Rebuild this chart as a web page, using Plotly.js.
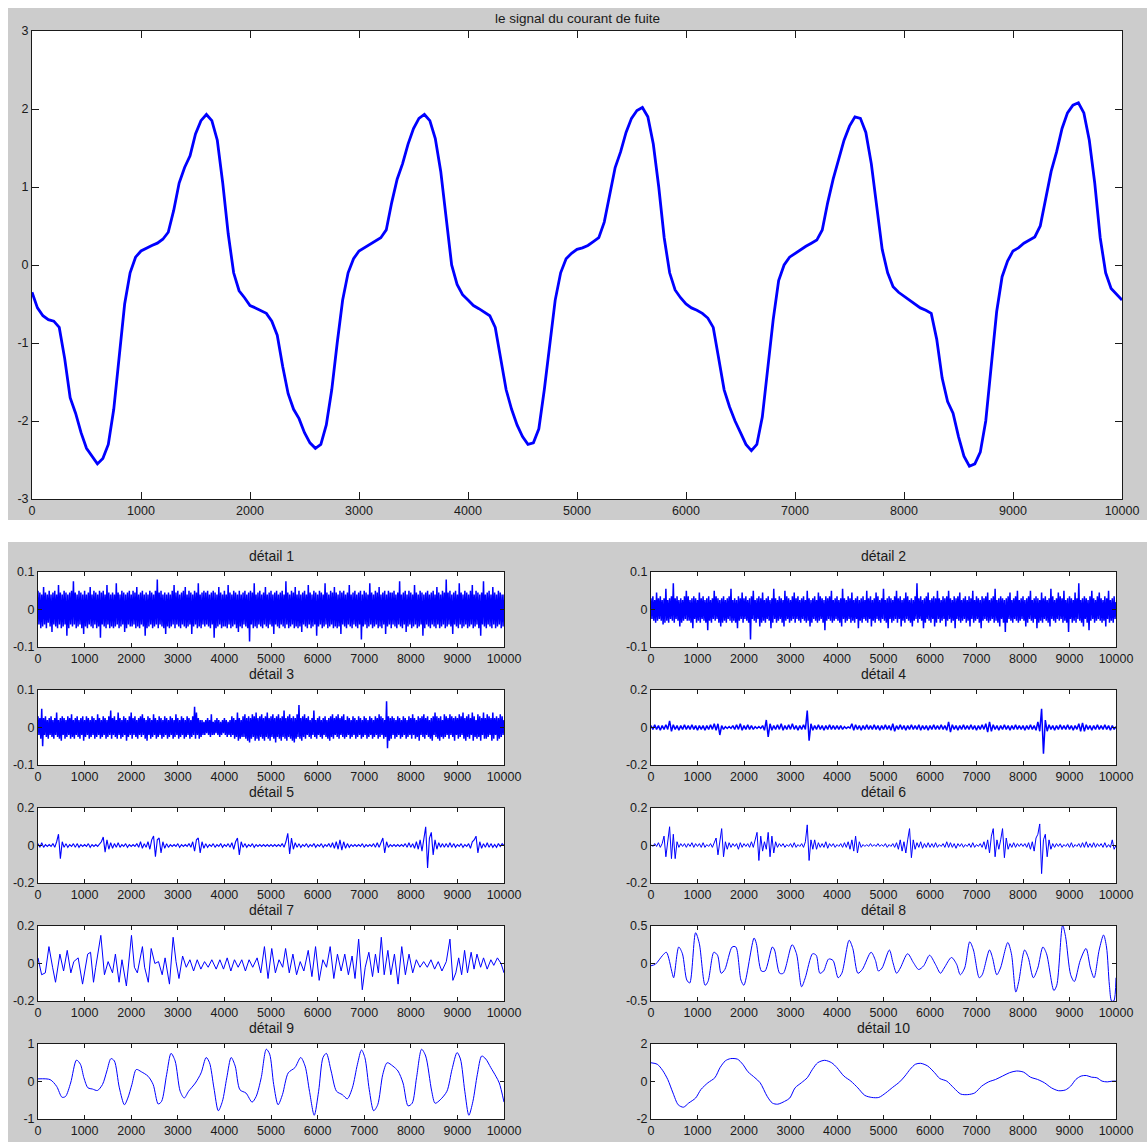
<!DOCTYPE html>
<html><head><meta charset="utf-8">
<script src="https://cdn.plot.ly/plotly-3.0.1.min.js"></script>
<style>html,body{margin:0;padding:0;background:#fff}#chart{width:1147px;height:1142px}</style>
</head><body><div id="chart"></div><script>
// ---------- data ----------
const xTicks = [0,1000,2000,3000,4000,5000,6000,7000,8000,9000,10000];
const xTickText = ['0','1000','2000','3000','4000','5000','6000','7000','8000','9000','10000'];
const mainTitle = 'le signal du courant de fuite';
const detailTitles = ['détail 1','détail 2','détail 3','détail 4','détail 5','détail 6','détail 7','détail 8','détail 9','détail 10'];

// main signal, one value every 50 samples
const signalStep = 50;
const signal = [
-0.35,-0.55,-0.65,-0.7,-0.72,-0.8,-1.2,-1.7,-1.9,-2.15,-2.35,-2.45,-2.55,-2.48,-2.3,-1.85,-1.15,-0.5,-0.1,0.1,
0.18,0.22,0.25,0.28,0.33,0.42,0.7,1.05,1.25,1.4,1.68,1.85,1.93,1.85,1.6,1.05,0.4,-0.1,-0.33,-0.42,
-0.52,-0.55,-0.58,-0.62,-0.72,-0.9,-1.3,-1.65,-1.85,-1.97,-2.15,-2.28,-2.35,-2.3,-2.05,-1.6,-1.0,-0.45,-0.1,0.08,
0.18,0.22,0.26,0.3,0.35,0.45,0.8,1.1,1.3,1.55,1.75,1.88,1.93,1.85,1.62,1.2,0.6,0.0,-0.25,-0.38,
-0.45,-0.52,-0.56,-0.6,-0.65,-0.8,-1.2,-1.6,-1.85,-2.05,-2.2,-2.3,-2.28,-2.1,-1.6,-1.0,-0.45,-0.1,0.08,0.15,
0.2,0.22,0.25,0.3,0.35,0.55,0.9,1.25,1.45,1.7,1.88,1.98,2.02,1.9,1.55,1.0,0.35,-0.1,-0.32,-0.42,
-0.5,-0.55,-0.58,-0.62,-0.68,-0.8,-1.2,-1.6,-1.82,-2.0,-2.15,-2.3,-2.38,-2.3,-1.95,-1.3,-0.7,-0.2,0.0,0.1,
0.15,0.2,0.24,0.28,0.32,0.45,0.8,1.1,1.35,1.6,1.78,1.9,1.88,1.7,1.3,0.75,0.2,-0.1,-0.28,-0.35,
-0.4,-0.45,-0.5,-0.55,-0.58,-0.62,-0.95,-1.45,-1.75,-1.9,-2.2,-2.45,-2.58,-2.55,-2.4,-2.0,-1.3,-0.6,-0.15,0.05,
0.18,0.22,0.28,0.32,0.36,0.5,0.85,1.2,1.45,1.75,1.95,2.05,2.08,1.95,1.6,1.05,0.35,-0.1,-0.3,-0.38,-0.45];

// details 1-3, one value every 20 samples
const fineStep = 20;
const d1 = [
0.05,-0.04,0.045,-0.05,0.04,-0.045,0.06,-0.04,0.045,-0.05,0.04,-0.035,0.05,-0.045,0.04,-0.06,0.045,-0.04,0.05,-0.045,
0.04,-0.05,0.065,-0.04,0.045,-0.05,0.04,-0.045,0.05,-0.04,0.045,-0.07,0.04,-0.05,0.045,-0.04,0.05,-0.045,0.075,-0.04,
0.045,-0.05,0.04,-0.045,0.05,-0.04,0.045,-0.05,0.04,-0.065,0.05,-0.045,0.04,-0.05,0.045,-0.04,0.06,-0.045,0.04,-0.05,
0.05,-0.04,0.045,-0.05,0.04,-0.045,0.05,-0.075,0.045,-0.04,0.05,-0.045,0.04,-0.05,0.065,-0.04,0.045,-0.05,0.04,-0.045,
0.045,-0.05,0.04,-0.045,0.07,-0.04,0.045,-0.05,0.04,-0.045,0.05,-0.04,0.045,-0.06,0.04,-0.05,0.045,-0.04,0.05,-0.045,
0.04,-0.045,0.05,-0.04,0.045,-0.05,0.06,-0.045,0.04,-0.05,0.045,-0.04,0.05,-0.045,0.04,-0.07,0.045,-0.05,0.04,-0.045,
0.05,-0.04,0.045,-0.05,0.04,-0.045,0.05,-0.04,0.08,-0.05,0.045,-0.04,0.05,-0.045,0.04,-0.05,0.045,-0.065,0.04,-0.045,
0.045,-0.05,0.04,-0.045,0.05,-0.04,0.065,-0.05,0.045,-0.04,0.05,-0.045,0.04,-0.05,0.045,-0.04,0.05,-0.045,0.06,-0.05,
0.04,-0.045,0.05,-0.04,0.045,-0.065,0.04,-0.045,0.05,-0.04,0.045,-0.05,0.07,-0.045,0.04,-0.05,0.045,-0.04,0.05,-0.045,
0.045,-0.04,0.05,-0.045,0.04,-0.05,0.045,-0.04,0.05,-0.075,0.045,-0.05,0.04,-0.045,0.06,-0.04,0.045,-0.05,0.04,-0.045,
0.05,-0.045,0.04,-0.05,0.065,-0.04,0.045,-0.05,0.04,-0.045,0.05,-0.04,0.045,-0.05,0.04,-0.06,0.05,-0.045,0.04,-0.05,
0.045,-0.04,0.05,-0.045,0.04,-0.05,0.045,-0.085,0.05,-0.04,0.045,-0.05,0.07,-0.045,0.04,-0.05,0.045,-0.04,0.05,-0.045,
0.04,-0.05,0.045,-0.04,0.06,-0.045,0.04,-0.05,0.045,-0.04,0.05,-0.045,0.04,-0.065,0.045,-0.04,0.05,-0.045,0.04,-0.05,
0.045,-0.04,0.05,-0.045,0.04,-0.05,0.075,-0.04,0.045,-0.05,0.04,-0.045,0.05,-0.04,0.045,-0.05,0.06,-0.045,0.04,-0.05,
0.05,-0.045,0.04,-0.06,0.045,-0.04,0.05,-0.045,0.04,-0.05,0.065,-0.04,0.045,-0.05,0.04,-0.045,0.05,-0.04,0.045,-0.07,
0.04,-0.045,0.05,-0.04,0.045,-0.05,0.04,-0.045,0.07,-0.04,0.045,-0.05,0.04,-0.045,0.05,-0.04,0.045,-0.05,0.06,-0.045,
0.045,-0.05,0.04,-0.045,0.05,-0.065,0.045,-0.04,0.05,-0.045,0.04,-0.05,0.045,-0.04,0.065,-0.045,0.04,-0.05,0.045,-0.04,
0.05,-0.045,0.04,-0.05,0.045,-0.04,0.05,-0.08,0.04,-0.045,0.05,-0.04,0.045,-0.05,0.04,-0.045,0.07,-0.04,0.045,-0.05,
0.04,-0.045,0.05,-0.04,0.045,-0.05,0.06,-0.045,0.04,-0.05,0.045,-0.04,0.05,-0.065,0.04,-0.045,0.05,-0.04,0.045,-0.05,
0.045,-0.04,0.05,-0.045,0.04,-0.05,0.045,-0.04,0.075,-0.045,0.04,-0.05,0.045,-0.04,0.05,-0.06,0.04,-0.045,0.05,-0.04,
0.045,-0.05,0.04,-0.045,0.065,-0.04,0.045,-0.05,0.04,-0.045,0.05,-0.04,0.045,-0.07,0.04,-0.05,0.045,-0.04,0.05,-0.045,
0.04,-0.05,0.045,-0.04,0.05,-0.045,0.04,-0.05,0.06,-0.04,0.045,-0.05,0.04,-0.045,0.05,-0.04,0.045,-0.05,0.08,-0.045,
0.045,-0.04,0.05,-0.045,0.04,-0.065,0.045,-0.04,0.05,-0.045,0.04,-0.05,0.07,-0.04,0.045,-0.05,0.04,-0.045,0.05,-0.04,
0.045,-0.05,0.04,-0.045,0.05,-0.04,0.065,-0.05,0.04,-0.045,0.05,-0.04,0.045,-0.05,0.04,-0.07,0.045,-0.04,0.075,-0.045,
0.04,-0.05,0.045,-0.04,0.05,-0.045,0.04,-0.05,0.06,-0.04,0.045,-0.05,0.04,-0.045,0.05,-0.04,0.045,-0.05,0.04,-0.045,
0.04];
const d2 = [
0.03,-0.025,0.035,-0.03,0.025,-0.035,0.045,-0.03,0.03,-0.025,0.035,-0.03,0.025,-0.04,0.03,-0.035,0.055,-0.03,0.025,-0.035,
0.03,-0.025,0.035,-0.03,0.07,-0.035,0.03,-0.025,0.035,-0.03,0.025,-0.045,0.03,-0.035,0.025,-0.03,0.035,-0.025,0.05,-0.03,
0.035,-0.03,0.025,-0.035,0.03,-0.05,0.035,-0.025,0.03,-0.035,0.025,-0.03,0.045,-0.035,0.03,-0.025,0.035,-0.03,0.025,-0.035,
0.03,-0.055,0.035,-0.03,0.025,-0.035,0.03,-0.025,0.05,-0.03,0.035,-0.025,0.03,-0.035,0.025,-0.045,0.03,-0.035,0.035,-0.03,
0.025,-0.035,0.03,-0.025,0.035,-0.03,0.055,-0.035,0.025,-0.03,0.03,-0.035,0.025,-0.05,0.035,-0.03,0.03,-0.025,0.045,-0.035,
0.03,-0.025,0.035,-0.03,0.025,-0.035,0.03,-0.08,0.035,-0.025,0.05,-0.03,0.025,-0.035,0.03,-0.025,0.035,-0.045,0.03,-0.035,
0.045,-0.03,0.025,-0.035,0.03,-0.025,0.035,-0.03,0.025,-0.05,0.03,-0.035,0.055,-0.025,0.03,-0.035,0.025,-0.03,0.035,-0.025,
0.03,-0.035,0.025,-0.045,0.05,-0.03,0.035,-0.025,0.03,-0.035,0.025,-0.03,0.035,-0.025,0.045,-0.035,0.03,-0.025,0.035,-0.03,
0.025,-0.035,0.03,-0.025,0.035,-0.03,0.025,-0.035,0.05,-0.03,0.03,-0.045,0.025,-0.035,0.03,-0.025,0.035,-0.03,0.025,-0.035,
0.045,-0.03,0.035,-0.025,0.03,-0.035,0.025,-0.055,0.035,-0.03,0.03,-0.025,0.035,-0.03,0.05,-0.035,0.025,-0.03,0.03,-0.025,
0.035,-0.03,0.025,-0.035,0.03,-0.045,0.055,-0.025,0.03,-0.035,0.025,-0.03,0.035,-0.025,0.03,-0.035,0.045,-0.03,0.025,-0.035,
0.03,-0.025,0.035,-0.05,0.025,-0.03,0.03,-0.035,0.035,-0.025,0.025,-0.03,0.05,-0.035,0.03,-0.025,0.035,-0.045,0.025,-0.03,
0.03,-0.035,0.045,-0.025,0.035,-0.03,0.025,-0.035,0.03,-0.025,0.055,-0.03,0.025,-0.035,0.03,-0.05,0.035,-0.025,0.03,-0.035,
0.025,-0.03,0.035,-0.025,0.05,-0.035,0.03,-0.025,0.035,-0.045,0.025,-0.03,0.03,-0.035,0.045,-0.025,0.035,-0.03,0.025,-0.035,
0.03,-0.045,0.025,-0.03,0.035,-0.025,0.07,-0.035,0.03,-0.025,0.035,-0.03,0.025,-0.05,0.03,-0.035,0.035,-0.025,0.045,-0.03,
0.025,-0.035,0.03,-0.025,0.035,-0.045,0.03,-0.035,0.05,-0.025,0.03,-0.035,0.025,-0.03,0.035,-0.025,0.03,-0.045,0.035,-0.03,
0.05,-0.025,0.03,-0.035,0.025,-0.03,0.035,-0.05,0.03,-0.025,0.035,-0.03,0.045,-0.035,0.025,-0.03,0.03,-0.025,0.035,-0.035,
0.025,-0.03,0.035,-0.045,0.03,-0.025,0.05,-0.035,0.025,-0.03,0.035,-0.025,0.03,-0.035,0.025,-0.05,0.035,-0.03,0.03,-0.025,
0.035,-0.03,0.045,-0.035,0.025,-0.03,0.03,-0.025,0.035,-0.035,0.055,-0.03,0.025,-0.035,0.03,-0.045,0.035,-0.025,0.03,-0.035,
0.025,-0.06,0.03,-0.035,0.035,-0.025,0.045,-0.03,0.025,-0.035,0.03,-0.025,0.035,-0.03,0.05,-0.035,0.025,-0.03,0.03,-0.025,
0.035,-0.03,0.025,-0.045,0.03,-0.035,0.035,-0.025,0.05,-0.03,0.025,-0.035,0.03,-0.025,0.035,-0.05,0.03,-0.035,0.025,-0.03,
0.045,-0.035,0.03,-0.025,0.035,-0.03,0.025,-0.035,0.03,-0.045,0.055,-0.025,0.035,-0.03,0.025,-0.035,0.03,-0.025,0.045,-0.03,
0.035,-0.025,0.03,-0.035,0.05,-0.03,0.025,-0.035,0.03,-0.06,0.035,-0.025,0.03,-0.035,0.025,-0.03,0.045,-0.035,0.03,-0.025,
0.07,-0.03,0.025,-0.035,0.03,-0.045,0.035,-0.025,0.03,-0.035,0.025,-0.055,0.035,-0.03,0.05,-0.025,0.03,-0.035,0.025,-0.03,
0.035,-0.025,0.045,-0.03,0.03,-0.035,0.025,-0.03,0.035,-0.045,0.03,-0.025,0.05,-0.035,0.025,-0.03,0.03,-0.035,0.035,-0.025,
0.02];
const d3 = [
0.03,-0.02,0.025,-0.03,0.05,-0.05,0.025,-0.02,0.03,-0.025,0.02,-0.03,0.025,-0.02,0.03,-0.025,0.02,-0.03,0.025,-0.02,
0.04,-0.025,0.02,-0.03,0.025,-0.035,0.03,-0.02,0.025,-0.03,0.02,-0.025,0.03,-0.02,0.025,-0.03,0.035,-0.025,0.02,-0.03,
0.025,-0.02,0.03,-0.025,0.02,-0.03,0.025,-0.02,0.03,-0.035,0.02,-0.025,0.03,-0.02,0.025,-0.03,0.02,-0.025,0.03,-0.02,
0.025,-0.03,0.02,-0.025,0.035,-0.02,0.025,-0.03,0.02,-0.025,0.03,-0.02,0.025,-0.03,0.02,-0.025,0.03,-0.02,0.045,-0.03,
0.025,-0.02,0.03,-0.025,0.02,-0.03,0.04,-0.02,0.025,-0.03,0.02,-0.025,0.03,-0.02,0.025,-0.035,0.02,-0.025,0.03,-0.02,
0.04,-0.03,0.025,-0.02,0.03,-0.025,0.02,-0.03,0.025,-0.02,0.03,-0.025,0.035,-0.02,0.025,-0.03,0.02,-0.035,0.03,-0.02,
0.025,-0.03,0.02,-0.025,0.035,-0.02,0.025,-0.03,0.02,-0.025,0.03,-0.02,0.025,-0.03,0.02,-0.025,0.03,-0.02,0.025,-0.03,
0.02,-0.025,0.03,-0.02,0.025,-0.03,0.02,-0.025,0.035,-0.02,0.025,-0.03,0.02,-0.025,0.03,-0.02,0.025,-0.03,0.02,-0.025,
0.03,-0.02,0.025,-0.03,0.02,-0.025,0.03,-0.02,0.055,-0.03,0.04,-0.02,0.025,-0.03,0.02,-0.025,0.02,-0.02,0.015,-0.02,
0.02,-0.015,0.025,-0.02,0.02,-0.025,0.035,-0.02,0.015,-0.02,0.02,-0.015,0.025,-0.02,0.02,-0.025,0.015,-0.02,0.02,-0.015,
0.025,-0.02,0.02,-0.025,0.015,-0.02,0.02,-0.025,0.03,-0.02,0.025,-0.03,0.02,-0.025,0.04,-0.035,0.025,-0.03,0.02,-0.025,
0.03,-0.025,0.035,-0.03,0.025,-0.035,0.03,-0.04,0.025,-0.03,0.035,-0.025,0.03,-0.035,0.04,-0.03,0.025,-0.035,0.03,-0.025,
0.035,-0.03,0.025,-0.035,0.03,-0.025,0.04,-0.03,0.025,-0.035,0.03,-0.025,0.035,-0.03,0.025,-0.04,0.03,-0.025,0.035,-0.03,
0.025,-0.035,0.03,-0.025,0.045,-0.03,0.025,-0.035,0.03,-0.025,0.035,-0.03,0.025,-0.035,0.03,-0.04,0.025,-0.03,0.035,-0.025,
0.06,-0.03,0.025,-0.035,0.03,-0.025,0.035,-0.03,0.025,-0.02,0.03,-0.025,0.02,-0.03,0.025,-0.02,0.045,-0.025,0.02,-0.03,
0.025,-0.02,0.03,-0.025,0.02,-0.03,0.025,-0.02,0.03,-0.025,0.02,-0.03,0.025,-0.035,0.03,-0.025,0.035,-0.03,0.025,-0.02,
0.03,-0.025,0.035,-0.03,0.025,-0.02,0.03,-0.025,0.035,-0.03,0.02,-0.025,0.03,-0.02,0.025,-0.03,0.02,-0.025,0.03,-0.02,
0.025,-0.03,0.02,-0.025,0.03,-0.02,0.025,-0.03,0.02,-0.025,0.03,-0.02,0.025,-0.03,0.02,-0.025,0.03,-0.02,0.025,-0.03,
0.02,-0.025,0.03,-0.02,0.025,-0.03,0.035,-0.025,0.03,-0.02,0.025,-0.03,0.02,-0.025,0.07,-0.055,0.03,-0.035,0.025,-0.03,
0.03,-0.02,0.025,-0.03,0.02,-0.025,0.03,-0.02,0.025,-0.03,0.02,-0.025,0.03,-0.02,0.025,-0.03,0.02,-0.025,0.03,-0.02,
0.025,-0.03,0.035,-0.02,0.025,-0.03,0.02,-0.025,0.03,-0.035,0.025,-0.02,0.03,-0.025,0.035,-0.03,0.025,-0.02,0.03,-0.025,
0.02,-0.03,0.025,-0.035,0.03,-0.02,0.04,-0.025,0.03,-0.03,0.025,-0.035,0.03,-0.025,0.02,-0.03,0.035,-0.025,0.03,-0.02,
0.025,-0.03,0.035,-0.02,0.03,-0.025,0.025,-0.035,0.03,-0.02,0.025,-0.03,0.035,-0.025,0.03,-0.02,0.04,-0.03,0.025,-0.035,
0.03,-0.025,0.035,-0.03,0.025,-0.02,0.04,-0.035,0.03,-0.025,0.02,-0.03,0.035,-0.025,0.03,-0.035,0.025,-0.02,0.04,-0.03,
0.025,-0.03,0.035,-0.025,0.03,-0.02,0.025,-0.035,0.04,-0.03,0.025,-0.02,0.03,-0.035,0.025,-0.03,0.035,-0.025,0.03,-0.02,
0.02];

// details 4-6, one value every 40 samples
const detailStep = 40;
const d4 = [
0.01,-0.01,0.015,-0.01,0.01,-0.015,0.01,-0.01,0.015,-0.01,0.035,-0.02,0.015,-0.01,0.01,-0.015,0.01,-0.01,0.015,-0.01,
0.01,-0.01,0.015,-0.01,0.01,-0.015,0.01,-0.01,0.01,-0.015,0.01,-0.01,0.015,-0.01,0.02,-0.015,0.02,-0.04,0.01,-0.01,
0.005,-0.005,0.005,-0.005,0.01,-0.01,0.015,-0.01,0.02,-0.015,0.01,-0.01,0.015,-0.01,0.01,-0.01,0.005,-0.005,0.005,-0.005,
0.01,-0.015,0.04,-0.05,0.02,-0.015,0.01,-0.01,0.015,-0.01,0.02,-0.015,0.01,-0.01,0.015,-0.01,0.02,-0.01,0.01,-0.015,
0.01,-0.01,0.015,-0.01,0.09,-0.07,0.02,-0.015,0.01,-0.01,0.015,-0.01,0.01,-0.015,0.01,-0.01,0.015,-0.01,0.01,-0.01,
0.01,-0.01,0.01,-0.01,0.005,-0.005,0.003,-0.003,0.02,-0.015,0.015,-0.01,0.01,-0.015,0.01,-0.01,0.015,-0.01,0.01,-0.01,
0.015,-0.01,0.01,-0.015,0.01,-0.01,0.015,-0.01,0.01,-0.015,0.02,-0.02,0.01,-0.01,0.015,-0.01,0.01,-0.015,0.01,-0.01,
0.015,-0.01,0.01,-0.01,0.015,-0.015,0.01,-0.01,0.01,-0.015,0.01,-0.01,0.015,-0.01,0.01,-0.01,0.015,-0.01,0.01,-0.015,
0.03,-0.025,0.015,-0.01,0.01,-0.015,0.01,-0.01,0.015,-0.01,0.01,-0.01,0.015,-0.01,0.01,-0.015,0.01,-0.01,0.015,-0.01,
0.02,-0.025,0.03,-0.02,0.015,-0.01,0.01,-0.015,0.01,-0.01,0.015,-0.01,0.01,-0.015,0.01,-0.01,0.015,-0.01,0.01,-0.01,
0.01,-0.015,0.01,-0.01,0.015,-0.01,0.01,-0.015,0.03,-0.02,0.1,-0.14,0.04,-0.02,0.015,-0.01,0.01,-0.015,0.01,-0.01,
0.015,-0.01,0.01,-0.01,0.015,-0.01,0.01,-0.015,0.01,-0.01,0.02,-0.02,0.025,-0.02,0.015,-0.01,0.01,-0.015,0.01,-0.01,
0.015,-0.01,0.01,-0.01,0.015,-0.01,0.01,-0.015,0.01,-0.01,0.005];
const d5 = [
0.01,-0.01,0.015,-0.01,0.005,-0.005,0.005,-0.005,0.01,-0.01,0.02,0.06,-0.07,0.02,-0.01,0.01,-0.01,0.005,-0.005,0.01,
-0.01,0.01,-0.01,0.005,-0.005,0.005,-0.005,0.01,-0.01,0.005,-0.005,0.005,-0.005,0.01,0.02,0.045,-0.035,0.03,-0.02,0.015,
-0.015,0.01,-0.01,0.015,-0.01,0.005,-0.005,0.01,-0.01,0.005,-0.005,0.005,-0.005,0.01,-0.01,0.02,-0.015,0.01,-0.01,0.02,
-0.02,0.03,0.05,-0.06,0.03,0.04,-0.04,0.02,-0.015,0.01,-0.01,0.005,-0.005,0.005,-0.005,0.01,-0.01,0.005,-0.005,0.005,
-0.005,0.01,-0.01,0.02,-0.03,0.03,0.04,-0.04,0.02,-0.015,0.01,-0.01,0.005,-0.005,0.01,-0.01,0.005,-0.005,0.01,-0.01,
0.005,-0.005,0.01,-0.01,0.015,-0.02,0.02,0.04,-0.05,0.02,-0.01,0.01,-0.01,0.005,-0.005,0.01,-0.01,0.005,-0.005,0.005,
-0.005,0.005,-0.005,0.005,-0.005,0.005,-0.005,0.005,-0.005,0.005,-0.005,0.01,-0.01,0.02,0.065,-0.045,0.04,-0.02,0.015,-0.01,
0.01,-0.01,0.005,-0.005,0.01,-0.01,0.005,-0.005,0.01,-0.01,0.005,-0.005,0.01,-0.01,0.005,-0.005,0.01,-0.01,0.015,-0.015,
0.02,-0.02,0.03,-0.025,0.02,-0.015,0.01,-0.01,0.005,-0.005,0.005,-0.005,0.005,-0.005,0.01,-0.01,0.005,-0.005,0.005,-0.005,
0.01,-0.01,0.015,-0.01,0.02,0.04,-0.04,0.02,-0.01,0.005,-0.005,0.005,-0.005,0.005,-0.005,0.005,-0.005,0.01,-0.01,0.015,
-0.01,0.01,-0.015,0.02,-0.02,0.03,-0.03,0.04,0.1,-0.12,0.04,0.07,-0.05,0.03,-0.02,0.015,-0.01,0.01,-0.01,0.01,
-0.01,0.015,-0.01,0.01,-0.01,0.005,-0.005,0.01,-0.01,0.005,-0.005,0.01,-0.015,0.02,0.03,0.05,-0.04,0.02,-0.015,0.01,
-0.01,0.015,-0.01,0.01,-0.01,0.005,-0.01,0.01,-0.005,0.01,0.0];
const d6 = [
0.005,-0.005,0.01,-0.005,0.015,-0.01,0.01,0.05,-0.06,0.03,0.1,-0.07,0.06,-0.07,0.02,-0.01,0.01,-0.005,0.01,-0.01,
0.01,-0.005,0.015,-0.01,0.01,-0.005,0.01,-0.01,0.015,-0.01,0.005,-0.005,0.01,-0.01,0.02,0.04,-0.05,0.03,0.09,-0.06,
0.02,-0.02,0.015,-0.01,0.01,-0.005,0.01,-0.02,0.015,-0.01,0.01,-0.005,0.01,-0.01,0.02,-0.01,0.03,0.07,-0.08,0.05,
-0.03,0.02,-0.02,0.07,-0.06,0.05,-0.04,0.02,-0.01,0.01,-0.005,0.01,-0.01,0.005,-0.005,0.01,-0.01,0.015,-0.01,0.005,
-0.005,0.01,-0.01,0.02,0.11,-0.08,0.03,-0.02,0.03,-0.02,0.015,-0.01,0.01,-0.01,0.02,-0.015,0.01,-0.005,0.01,-0.01,
0.005,-0.005,0.01,-0.01,0.015,-0.01,0.02,-0.02,0.03,-0.03,0.05,-0.04,0.02,-0.01,0.005,-0.005,0.005,-0.005,0.01,-0.005,
0.005,-0.005,0.01,-0.005,0.005,-0.005,0.01,-0.01,0.005,-0.005,0.01,-0.01,0.015,-0.02,0.03,-0.03,0.02,-0.04,0.03,0.09,
-0.065,0.03,-0.02,0.015,-0.01,0.02,-0.015,0.01,-0.01,0.015,-0.01,0.01,-0.01,0.015,-0.01,0.005,-0.005,0.01,-0.01,0.02,
-0.01,0.015,-0.01,0.01,-0.015,0.01,-0.005,0.01,-0.01,0.005,-0.005,0.01,-0.01,0.015,-0.01,0.005,-0.005,0.01,-0.01,0.02,
-0.02,0.03,-0.04,0.05,0.09,-0.06,0.03,-0.02,0.03,0.09,-0.065,0.04,-0.02,0.01,-0.01,0.015,-0.01,0.01,-0.005,0.01,
-0.005,0.01,-0.01,0.015,-0.02,0.02,-0.03,0.04,0.06,0.115,-0.15,0.03,0.06,-0.06,0.03,-0.02,0.01,-0.01,0.01,-0.005,
0.01,-0.01,0.005,-0.005,0.01,-0.01,0.015,-0.01,0.005,-0.005,0.01,-0.01,0.015,-0.01,0.02,-0.01,0.01,-0.01,0.015,-0.01,
0.01,-0.005,0.01,-0.01,0.015,-0.01,0.005,-0.01,0.03,-0.02,0.0];

// details 7-10 as read points (sample index, value)
const d7x = [0,78,157,235,313,376,470,549,627,705,768,862,956,987,1066,1128,1191,1238,1348,1426,
1505,1599,1661,1740,1802,1897,2006,2069,2132,2241,2288,2367,2429,2508,2586,2665,2727,2821,2900,2962,
3025,3103,3182,3260,3339,3417,3495,3574,3652,3730,3824,3903,3981,4060,4138,4216,4295,4373,4451,4530,
4608,4702,4781,4859,4937,5016,5094,5172,5251,5313,5392,5470,5549,5627,5705,5799,5878,5956,6034,6113,
6191,6270,6348,6426,6505,6583,6661,6740,6803,6881,6959,7022,7100,7179,7241,7304,7367,7429,7508,7571,
7649,7727,7806,7884,7962,8041,8119,8197,8276,8354,8433,8511,8589,8668,8762,8840,8903,8966,9028,9091,
9154,9216,9295,9357,9420,9498,9561,9639,9718,9781,9859,9937,10000];
const d7y = [0.03,-0.06,-0.05,0.09,-0.02,-0.1,0.05,-0.04,0.07,-0.05,0.01,0.03,-0.11,-0.06,0.05,0.06,-0.1,-0.02,0.15,-0.06,
0.01,-0.05,0.05,-0.1,0.02,-0.12,0.15,-0.02,-0.05,0.09,-0.02,-0.1,0.08,0,0.01,-0.06,0.03,-0.11,0.14,0.01,
-0.08,0.04,-0.02,0.02,-0.04,0.02,-0.03,0.01,-0.02,0.02,-0.03,0.02,-0.03,0.03,-0.04,0.02,-0.02,0.02,-0.04,0.02,
-0.02,0.03,-0.05,0.09,-0.08,0.08,-0.05,0.02,-0.02,0.08,-0.05,0.05,-0.06,0.01,-0.04,0.07,-0.07,0.09,-0.09,0.02,
-0.02,0.09,-0.08,0.05,-0.04,0.05,-0.06,0.04,-0.08,0.13,-0.14,-0.02,0.06,-0.07,0.05,-0.05,0.14,-0.06,0.07,-0.06,
0.05,-0.11,0.09,-0.06,0.05,-0.05,0.02,-0.02,0.01,-0.02,0.02,-0.03,0.01,-0.04,0.01,0.13,-0.09,-0.05,0.03,-0.06,
0.07,-0.05,0.06,-0.03,0.05,-0.02,0.03,-0.03,0.02,-0.01,0.03,0,-0.05];
const d8x = [0,94,252,330,456,487,597,676,770,833,959,1038,1164,1226,1352,1431,1509,1588,1745,1824,
1934,1997,2217,2264,2374,2453,2610,2657,2767,2846,3035,3129,3239,3318,3475,3553,3632,3711,3821,3915,
4025,4104,4261,4340,4450,4544,4733,4827,4890,4969,5126,5204,5283,5362,5519,5645,5755,5865,5991,6116,
6226,6305,6462,6572,6651,6745,6855,6934,7060,7123,7280,7343,7437,7516,7673,7751,7846,7909,8035,8113,
8223,8318,8428,8506,8664,8726,8852,8915,9025,9104,9230,9355,9450,9528,9638,9733,9796,9858,9906,9953,10000];
const d8y = [-0.03,-0.01,0.11,0.15,-0.13,-0.19,0.22,0.13,-0.22,-0.26,0.41,0.27,-0.29,-0.24,0.15,0.11,-0.13,-0.08,0.22,0.22,
-0.22,-0.29,0.34,0.27,-0.1,-0.1,0.22,0.18,-0.13,-0.13,0.25,0.13,-0.31,-0.19,0.13,0.11,-0.13,-0.1,0.06,0.04,
-0.19,-0.13,0.31,0.2,-0.13,-0.08,0.15,0.04,-0.1,-0.06,0.18,0.01,-0.13,-0.06,0.13,0.01,-0.08,-0.03,0.11,-0.01,
-0.13,-0.06,0.08,-0.01,-0.15,-0.06,0.29,0.18,-0.19,-0.15,0.18,0.08,-0.15,-0.06,0.28,0.13,-0.38,-0.24,0.18,0.08,
-0.19,-0.06,0.22,0.13,-0.36,-0.29,0.51,0.36,-0.15,-0.24,0.04,0.2,-0.06,-0.19,0.18,0.38,0.22,-0.29,-0.5,-0.5,-0.19];
const d9x = [0,260,400,515,590,700,826,910,985,1072,1167,1275,1384,1478,1565,1638,1746,1855,1928,2015,
2109,2217,2362,2471,2580,2652,2761,2855,2942,3051,3138,3232,3377,3500,3609,3681,3775,3870,3957,4051,
4145,4232,4333,4464,4594,4681,4790,4899,4971,5058,5152,5246,5370,5514,5638,5732,5826,5928,6022,6116,
6188,6290,6406,6529,6638,6746,6855,6942,7014,7109,7203,7290,7399,7493,7616,7725,7833,7942,8029,8123,
8232,8319,8449,8522,8630,8775,8884,8993,9065,9159,9246,9333,9428,9522,9609,9717,9826,9899,10000];
const d9y = [0.07,0.05,-0.13,-0.42,-0.4,-0.04,0.57,0.46,0.1,-0.17,-0.2,-0.24,-0.08,0.28,0.61,0.55,-0.17,-0.62,-0.44,-0.08,
0.32,0.26,0.14,-0.08,-0.6,-0.53,0.19,0.75,0.55,-0.26,-0.44,-0.26,-0.04,0.23,0.64,0.5,-0.17,-0.78,-0.53,0.1,
0.64,0.41,-0.22,-0.31,-0.55,-0.4,0.1,0.86,0.73,-0.08,-0.62,-0.35,0.23,0.37,0.64,0.41,-0.26,-0.9,-0.26,0.64,
0.75,0.28,-0.26,-0.35,-0.46,-0.17,0.46,0.84,0.64,-0.22,-0.78,-0.62,0.19,0.5,0.41,0.28,-0.04,-0.65,-0.58,0.1,
0.86,0.68,-0.26,-0.58,-0.49,-0.26,0.32,0.77,0.6,-0.26,-0.9,-0.53,0.19,0.68,0.6,0.37,0.14,-0.04,-0.55];
const d10x = [0,135,248,360,473,585,698,810,960,1073,1223,1373,1485,1598,1710,1860,1973,2085,2235,2348,
2498,2610,2723,2873,2985,3098,3233,3360,3473,3585,3735,3885,3998,4148,4298,4448,4598,4748,4898,5048,
5198,5348,5461,5573,5686,5798,5948,6098,6210,6360,6511,6661,6811,6961,7111,7261,7411,7561,7711,7861,
8011,8162,8312,8462,8612,8762,8912,9024,9137,9250,9362,9475,9587,9700,9812,9925,10000];
const d10y = [1.0,0.92,0.6,0.11,-0.61,-1.24,-1.37,-1.15,-0.88,-0.43,-0.07,0.2,0.74,1.1,1.22,1.19,0.92,0.52,0.2,-0.07,
-0.79,-1.15,-1.21,-1.06,-0.88,-0.34,-0.07,0.2,0.65,1.0,1.13,1.0,0.74,0.29,0.02,-0.34,-0.74,-0.85,-0.85,-0.61,
-0.31,-0.02,0.29,0.65,0.92,0.97,0.83,0.47,0.16,0.02,-0.34,-0.67,-0.7,-0.61,-0.25,-0.02,0.11,0.29,0.47,0.56,
0.5,0.23,0.11,-0.07,-0.34,-0.49,-0.45,-0.25,0.11,0.29,0.32,0.23,0.2,0.02,-0.02,0.02,0.02];

// y ranges and ticks per detail
const detailRanges = [[-0.1,0.1],[-0.1,0.1],[-0.1,0.1],[-0.2,0.2],[-0.2,0.2],[-0.2,0.2],[-0.2,0.2],[-0.5,0.5],[-1,1],[-2,2]];
const detailTickText = [['-0.1','0','0.1'],['-0.1','0','0.1'],['-0.1','0','0.1'],['-0.2','0','0.2'],['-0.2','0','0.2'],
  ['-0.2','0','0.2'],['-0.2','0','0.2'],['-0.5','0','0.5'],['-1','0','1'],['-2','0','2']];
const mainYTicks = [-3,-2,-1,0,1,2,3];
const mainYTickText = ['-3','-2','-1','0','1','2','3'];

// ---------- layout geometry ----------
const W = 1147, H = 1142;
const BLUE = '#0000ff';
const INK = '#1a1a1a';
const FONT = 'Arial, "Liberation Sans", sans-serif';
const xd = (a,b) => [a/W, b/W];
const yd = (top,bot) => [1-bot/H, 1-top/H];
const colX = [[38,504],[651,1116]];
const rowY = [[572,647],[690,765],[808,883],[926,1001],[1044,1119]];
const lineWidths = [1.5,1.5,1.5,1.5,1.1,1,1,1,1,1];

const layout = {
  width: W, height: H,
  margin: {l:0,r:0,t:0,b:0},
  paper_bgcolor: '#cccccc',
  plot_bgcolor: '#ffffff',
  showlegend: false,
  font: {family: FONT, color: INK},
  shapes: [
    {type:'rect', xref:'paper', yref:'paper', x0:0, x1:1, y0:1-8/H, y1:1, fillcolor:'#fff', line:{width:0}, layer:'below'},
    {type:'rect', xref:'paper', yref:'paper', x0:0, x1:8/W, y0:0, y1:1, fillcolor:'#fff', line:{width:0}, layer:'below'},
    {type:'rect', xref:'paper', yref:'paper', x0:0, x1:1, y0:1-542/H, y1:1-520/H, fillcolor:'#fff', line:{width:0}, layer:'below'}
  ],
  annotations: []
};

function axisX(dom, anchor, len){
  return {domain: dom, anchor: anchor, range:[0,10000], tickmode:'array', tickvals:xTicks, ticktext:xTickText,
    ticks:'inside', ticklen:len, tickcolor:INK, tickwidth:1, showline:true, linecolor:INK, linewidth:1, mirror:'ticks',
    showgrid:false, zeroline:false, tickfont:{family:FONT, size:12.5, color:INK}, fixedrange:true};
}
function axisY(dom, anchor, range, vals, text, len){
  return {domain: dom, anchor: anchor, range: range, tickmode:'array', tickvals:vals, ticktext:text,
    ticks:'inside', ticklen:len, tickcolor:INK, tickwidth:1, showline:true, linecolor:INK, linewidth:1, mirror:'ticks',
    showgrid:false, zeroline:false, tickfont:{family:FONT, size:12.5, color:INK}, fixedrange:true};
}

// main panel
layout.xaxis = axisX(xd(32,1122), 'y', 7);
layout.yaxis = axisY(yd(31,499), 'x', [-3,3], mainYTicks, mainYTickText, 7);
layout.annotations.push({text: mainTitle, xref:'paper', yref:'paper', x:(32+1122)/2/W, y:1-18/H,
  xanchor:'center', yanchor:'middle', showarrow:false, font:{family:FONT, size:13.5, color:INK}});

const traces = [{type:'scatter', mode:'lines', x0:0, dx:signalStep, y:signal, xaxis:'x', yaxis:'y',
  line:{color:BLUE, width:2.8}, hoverinfo:'skip'}];

const detailData = [
  {y:d1, step:fineStep}, {y:d2, step:fineStep}, {y:d3, step:fineStep},
  {y:d4, step:detailStep}, {y:d5, step:detailStep}, {y:d6, step:detailStep},
  {x:d7x, y:d7y}, {x:d8x, y:d8y}, {x:d9x, y:d9y}, {x:d10x, y:d10y}
];

for (let k = 0; k < 10; k++) {
  const n = k + 2;
  const col = k % 2, row = Math.floor(k / 2);
  const xdom = xd(colX[col][0], colX[col][1]);
  const ydom = yd(rowY[row][0], rowY[row][1]);
  const r = detailRanges[k];
  layout['xaxis'+n] = axisX(xdom, 'y'+n, 4);
  layout['yaxis'+n] = axisY(ydom, 'x'+n, r, [r[0],0,r[1]], detailTickText[k], 4);
  layout.annotations.push({text: detailTitles[k], xref:'paper', yref:'paper',
    x:(colX[col][0]+colX[col][1])/2/W, y:1-(rowY[row][0]-16)/H, xanchor:'center', yanchor:'middle',
    showarrow:false, font:{family:FONT, size:14, color:INK}});
  const dd = detailData[k];
  const tr = {type:'scatter', mode:'lines', xaxis:'x'+n, yaxis:'y'+n, hoverinfo:'skip',
    line:{color:BLUE, width:lineWidths[k]}};
  if (dd.x) { tr.x = dd.x; tr.y = dd.y; if (k >= 7) { tr.line.shape = 'spline'; tr.line.smoothing = 0.8; } }
  else { tr.x0 = 0; tr.dx = dd.step; tr.y = dd.y; }
  traces.push(tr);
}

Plotly.newPlot('chart', traces, layout, {staticPlot:true, displayModeBar:false});
</script></body></html>
